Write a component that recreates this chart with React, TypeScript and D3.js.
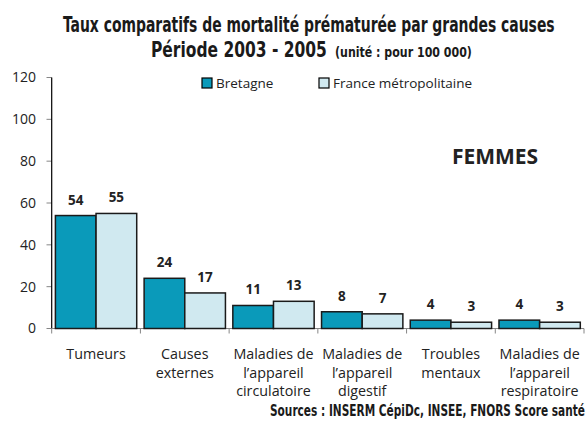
import React, { useRef, useLayoutEffect, useState } from 'react';
import * as d3 from 'd3';

// constants
const width = 588;
const height = 428;
const sansFont = "'Open Sans', 'DejaVu Sans', sans-serif";
const narrowFont = "'DejaVu Sans Condensed', 'DejaVu Sans', sans-serif";

// data
const categories = ['Tumeurs', 'Causes externes', 'Circulatoire', 'Digestif', 'Troubles mentaux', 'Respiratoire'];
const categoryLabels = [
  ['Tumeurs'],
  ['Causes', 'externes'],
  ['Maladies de', 'l\u2019appareil', 'circulatoire'],
  ['Maladies de', 'l\u2019appareil', 'digestif'],
  ['Troubles', 'mentaux'],
  ['Maladies de', 'l\u2019appareil', 'respiratoire'],
];
const seriesNames = ['Bretagne', 'France métropolitaine'];
const bretagne = [54, 24, 11, 8, 4, 4];
const france = [55, 17, 13, 7, 3, 3];
const yTicks = [0, 20, 40, 60, 80, 100, 120];
const colors = ['#0a9aba', '#d0e9f0'];

// condensed text: squeeze horizontally to a given width
const NarrowText = ({ x, y, w, size, children }: { x: number, y: number, w: number, size: number, children: string }) => {
  const ref = useRef<SVGTextElement>(null);
  const [sx, setSx] = useState(1);
  useLayoutEffect(() => {
    if (ref.current) {
      const len = ref.current.getComputedTextLength();
      if (len > 0) setSx(w / len);
    }
  }, [w, children]);
  return (
    <g transform={`translate(${x},${y}) scale(${sx},1)`}>
      <text ref={ref} fontFamily={narrowFont} fontWeight="bold" fontSize={size} fill="#1a1a1a">{children}</text>
    </g>
  );
};

const App = () => {
  const values = [bretagne, france];

  const x = d3.scaleBand<string>()
    .domain(categories)
    .range([51.7, 584])
    .padding(0);
  const x1 = d3.scaleBand<string>()
    .domain(seriesNames)
    .range([0, x.bandwidth()])
    .paddingInner(0)
    .paddingOuter(0.091);
  const y = d3.scaleLinear()
    .domain([0, 120])
    .range([328.5, 77.5]);

  const tickPositions = categories.map(c => x(c) as number).concat([x.range()[1]]);

  return (
    <svg width={width} height={height} style={{ display: 'block', position: 'absolute', left: 0, top: 0 }}>
      <rect width={width} height={height} fill="#fff" />

      {/* title */}
      <NarrowText x={63} y={32} w={492} size={21}>Taux comparatifs de mortalité prématurée par grandes causes</NarrowText>
      <NarrowText x={151} y={57} w={176} size={21}>Période 2003 - 2005</NarrowText>
      <NarrowText x={335} y={57} w={137} size={14.5}>(unité : pour 100 000)</NarrowText>

      {/* legend */}
      {seriesNames.map((s, i) => {
        const lx = i === 0 ? 202 : 319;
        return (
          <g key={s}>
            <rect x={lx} y={78} width={10} height={10} fill={colors[i]} stroke="#000" strokeWidth={1.2} />
            <text x={lx + 14} y={87.5} fontFamily={sansFont} fontSize={13.5} fill="#222">{s}</text>
          </g>
        );
      })}

      <text x={495} y={164} textAnchor="middle" fontFamily={sansFont} fontWeight="bold" fontSize={21} fill="#222">
        FEMMES
      </text>

      {/* y axis */}
      {yTicks.map(t => (
        <g key={t}>
          <line x1={46.5} x2={51.7} y1={y(t)} y2={y(t)} stroke="#868686" />
          <text x={36} y={y(t)} dy="0.35em" textAnchor="end" fontFamily={sansFont} fontSize={14} fill="#222">{t}</text>
        </g>
      ))}
      <line x1={51.7} x2={51.7} y1={y(120)} y2={y(0)} stroke="#000" strokeWidth={1.2} />

      {/* x axis */}
      <line x1={51.7} x2={584} y1={y(0)} y2={y(0)} stroke="#868686" strokeWidth={1.2} />
      {tickPositions.map((p, i) => (
        <line key={i} x1={p} x2={p} y1={y(0)} y2={y(0) + 5} stroke="#868686" />
      ))}

      {/* bars */}
      {categories.map((c, ci) => (
        <g key={c} transform={`translate(${x(c)},0)`}>
          {seriesNames.map((s, si) => {
            const v = values[si][ci];
            return (
              <g key={s}>
                <rect
                  x={x1(s)}
                  y={y(v)}
                  width={x1.bandwidth()}
                  height={y(0) - y(v)}
                  fill={colors[si]}
                  stroke="#1a1a1a"
                  strokeWidth={1.5}
                />
                <text
                  x={(x1(s) as number) + x1.bandwidth() / 2}
                  y={y(v) - 11}
                  textAnchor="middle"
                  fontFamily={sansFont}
                  fontWeight="bold"
                  fontSize={13.5}
                  fill="#222"
                >{v}</text>
              </g>
            );
          })}
          {categoryLabels[ci].map((line, li) => (
            <text
              key={li}
              x={x.bandwidth() / 2}
              y={354 + li * 18.5}
              dy="0.35em"
              textAnchor="middle"
              fontFamily={sansFont}
              fontSize={14.3}
              fill="#222"
            >{line}</text>
          ))}
        </g>
      ))}

      {/* source */}
      <NarrowText x={270} y={416} w={315} size={15}>Sources : INSERM CépiDc, INSEE, FNORS Score santé</NarrowText>
    </svg>
  );
};

export default App;
